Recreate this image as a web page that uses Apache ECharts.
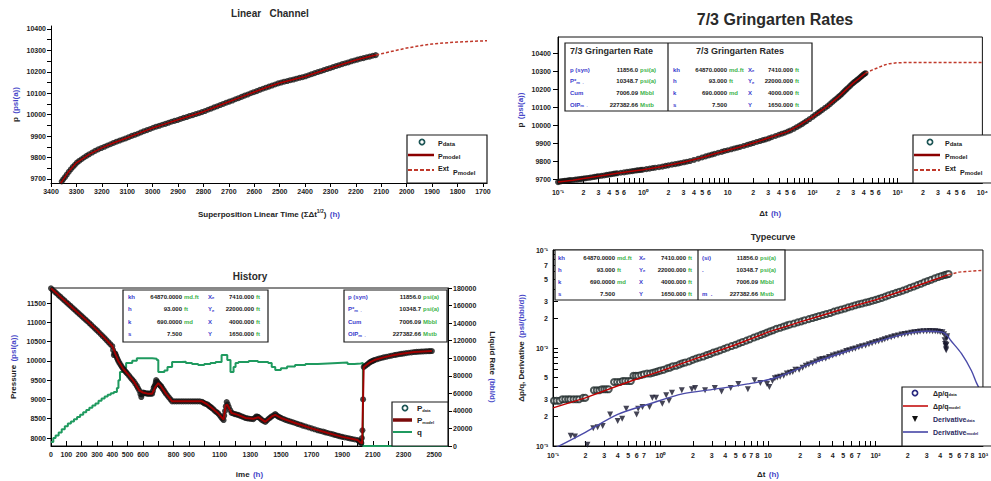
<!DOCTYPE html>
<html><head><meta charset="utf-8">
<script src="https://cdn.jsdelivr.net/npm/echarts@6/dist/echarts.min.js"></script>
<style>html,body{margin:0;padding:0;background:#fff}#c{width:991px;height:481px}</style>
</head><body><div id="c"></div>
<script>
// ---------- Linear Channel ----------
const linModel = [[3362,9680],[3350,9700],[3330,9735],[3300,9775],[3250,9815],[3200,9845],[3150,9870],[3100,9892],[3050,9915],[3000,9938],[2950,9957],[2900,9976],[2850,9995],[2800,10014],[2750,10037],[2700,10060],[2650,10083],[2600,10106],[2550,10128],[2500,10148],[2450,10163],[2400,10178],[2350,10198],[2300,10218],[2250,10237],[2200,10255],[2150,10270],[2120,10279]];
const linExt = [[2120,10279],[2100,10284],[2050,10298],[2000,10311],[1950,10321],[1900,10330],[1850,10335],[1800,10339],[1750,10342],[1684,10345]];
const linData = [[3358,9688],[3352,9698],[3345,9708],[3338,9720],[3330,9733],[3322,9745],[3314,9756],[3306,9766],[3298,9776],[3289,9784],[3280,9792],[3270,9800],[3260,9808],[3250,9815],[3238,9823],[3226,9831],[3214,9838],[3202,9844],[3190,9850],[3178,9856],[3166,9862],[3154,9868],[3142,9874],[3130,9879],[3118,9884],[3106,9889],[3094,9895],[3082,9901],[3070,9906],[3058,9911],[3046,9917],[3034,9923],[3022,9928],[3010,9933],[2998,9939],[2986,9944],[2974,9948],[2962,9953],[2950,9957],[2938,9962],[2926,9967],[2914,9971],[2902,9975],[2890,9980],[2878,9985],[2866,9989],[2854,9994],[2842,9998],[2830,10003],[2818,10007],[2806,10012],[2794,10017],[2782,10023],[2770,10028],[2758,10034],[2746,10039],[2734,10045],[2722,10050],[2710,10056],[2698,10061],[2686,10066],[2674,10072],[2662,10077],[2650,10083],[2638,10089],[2626,10094],[2614,10100],[2602,10105],[2590,10110],[2578,10116],[2566,10121],[2554,10126],[2542,10131],[2530,10136],[2518,10141],[2506,10146],[2494,10150],[2482,10154],[2470,10157],[2458,10161],[2446,10164],[2434,10168],[2422,10172],[2410,10175],[2398,10179],[2386,10184],[2374,10189],[2362,10194],[2350,10199],[2338,10203],[2326,10208],[2314,10213],[2302,10217],[2290,10222],[2278,10227],[2266,10231],[2254,10236],[2242,10240],[2230,10244],[2218,10249],[2206,10253],[2194,10257],[2182,10261],[2170,10264],[2158,10268],[2146,10271],[2134,10275],[2122,10278]];
const linXLabels = [3400,3300,3200,3100,3000,2900,2800,2700,2600,2500,2400,2300,2200,2100,2000,1900,1800,1700];
const linYLabels = [9700,9800,9900,10000,10100,10200,10300,10400];
const linYTicks = [9700,9750,9800,9850,9900,9950,10000,10050,10100,10150,10200,10250,10300,10350,10400];

// ---------- 7/3 Gringarten Rates ----------
const grinModel = [[0.1,9683],[0.15,9693],[0.2,9703],[0.3,9716],[0.5,9732],[0.7,9742],[1,9752],[1.5,9765],[2,9776],[3,9793],[5,9820],[7,9840],[10,9860],[15,9882],[20,9900],[30,9928],[50,9962],[70,10000],[100,10045],[150,10105],[200,10155],[250,10198],[300,10233],[350,10258],[420,10288]];
const grinExt = [[420,10288],[500,10305],[600,10320],[700,10333],[800,10341],[1000,10346],[1500,10348],[3000,10348],[10000,10348]];
const grinData = [[0.1,9683],[0.105,9686],[0.11,9688],[0.115,9689],[0.12,9690],[0.125,9691],[0.13,9692],[0.135,9693],[0.14,9694],[0.15,9695],[0.16,9697],[0.17,9698],[0.18,9700],[0.19,9701],[0.2,9703],[0.21,9704],[0.225,9706],[0.24,9708],[0.255,9710],[0.27,9712],[0.285,9714],[0.3,9716],[0.325,9718],[0.35,9720],[0.375,9723],[0.4,9725],[0.425,9727],[0.45,9729],[0.475,9731],[0.5,9732],[0.55,9735],[0.6,9737],[0.65,9740],[0.7,9742],[0.75,9744],[0.8,9746],[0.85,9748],[0.9,9749],[0.95,9751],[1.0,9752],[1.1,9755],[1.2,9758],[1.3,9761],[1.4,9763],[1.55,9766],[1.7,9769],[1.85,9773],[2,9776],[2.2,9780],[2.4,9783],[2.6,9786],[2.8,9789],[3.05,9793],[3.3,9796],[3.6,9800],[4,9806],[4.5,9813],[5,9820],[5.5,9826],[6,9831],[6.5,9836],[7,9840],[7.7,9846],[8.5,9851],[9.2,9856],[10,9860],[11,9865],[12,9870],[13,9874],[14,9878],[15.5,9884],[17,9890],[18.5,9895],[20,9900],[22,9906],[24,9911],[26,9916],[28,9920],[30.5,9926],[33,9932],[36.5,9939],[40,9946],[43.5,9952],[47,9957],[51,9964],[55,9970],[60,9979],[65,9988],[70,9997],[75,10005],[80,10014],[85,10022],[92,10033],[100,10045],[107,10056],[115,10066],[122,10075],[130,10084],[140,10095],[150,10105],[160,10116],[170,10127],[180,10137],[190,10146],[200,10155],[210,10163],[220,10172],[230,10181],[240,10190],[250,10198],[262,10207],[275,10216],[287,10225],[300,10233],[312,10240],[325,10246],[337,10252],[350,10258],[362,10264],[375,10270],[387,10276],[400,10281],[410,10285],[420,10288]];
const grinXLabels = [0.1,0.2,0.3,0.4,0.5,0.6,1,2,3,4,5,6,10,20,30,40,50,60,100,200,300,400,500,600,1000,2000,3000,4000,5000,6000,10000];
const grinXTicks = [0.1,0.2,0.3,0.4,0.5,0.6,0.7,0.8,0.9,1,2,3,4,5,6,7,8,9,10,20,30,40,50,60,70,80,90,100,200,300,400,500,600,700,800,900,1000,2000,3000,4000,5000,6000,7000,8000,9000,10000];
const grinYLabels = [9700,9800,9900,10000,10100,10200,10300,10400];

// ---------- History ----------
const histPModel = [[0,11880],[50,11700],[100,11520],[150,11340],[200,11160],[250,10980],[300,10790],[350,10590],[400,10380],[420,10180],[440,9990],[470,9800],[500,9660],[540,9470],[576,9230],[600,9180],[630,9150],[660,9150],[680,9320],[700,9420],[720,9330],[750,9150],[790,8950],[985,8950],[1020,8870],[1050,8777],[1090,8640],[1126,8480],[1140,8850],[1150,8860],[1178,8650],[1220,8600],[1270,8520],[1320,8500],[1353,8540],[1398,8420],[1440,8560],[1463,8600],[1500,8520],[1592,8389],[1700,8250],[1806,8130],[1900,8030],[2000,7948],[2020,7880],[2030,7860],[2040,9839],[2080,9960],[2110,10021],[2170,10090],[2240,10150],[2300,10190],[2369,10228],[2430,10245],[2485,10255]];
const histPData = [[0,11880],[12,11837],[25,11790],[37,11747],[50,11700],[62,11657],[75,11610],[87,11567],[100,11520],[112,11477],[125,11430],[137,11387],[150,11340],[162,11297],[175,11250],[187,11207],[200,11160],[212,11117],[225,11070],[237,11027],[250,10980],[262,10935],[275,10885],[287,10838],[300,10790],[312,10742],[325,10690],[337,10640],[350,10590],[362,10538],[375,10485],[387,10433],[400,10380],[405,10280],[410,10150],[415,10200],[420,10180],[425,10130],[430,10080],[435,10035],[440,9990],[447,9940],[455,9890],[462,9845],[470,9800],[477,9765],[485,9730],[492,9695],[500,9660],[510,9610],[520,9560],[530,9515],[540,9470],[550,9410],[560,9350],[568,9290],[576,9230],[583,9140],[589,9062],[595,9130],[600,9180],[607,9170],[615,9160],[622,9155],[630,9150],[637,9150],[645,9150],[652,9150],[660,9150],[665,9220],[670,9300],[675,9340],[680,9380],[683,9440],[686,9503],[693,9460],[700,9420],[705,9395],[710,9370],[715,9350],[720,9330],[727,9285],[735,9240],[742,9195],[750,9150],[760,9100],[770,9050],[780,9000],[790,8950],[805,8950],[820,8950],[835,8950],[850,8950],[865,8950],[880,8950],[895,8950],[910,8950],[925,8950],[940,8950],[955,8950],[970,8950],[985,8940],[992,8920],[1000,8900],[1010,8885],[1020,8870],[1027,8845],[1035,8820],[1042,8800],[1050,8777],[1060,8740],[1070,8700],[1080,8670],[1090,8640],[1100,8590],[1110,8540],[1118,8500],[1126,8466],[1130,8580],[1135,8700],[1140,8820],[1146,8933],[1153,8870],[1160,8800],[1170,8720],[1178,8650],[1189,8635],[1200,8620],[1210,8610],[1220,8600],[1232,8580],[1245,8560],[1257,8540],[1270,8518],[1282,8509],[1295,8500],[1307,8495],[1320,8490],[1330,8525],[1340,8560],[1347,8552],[1353,8544],[1364,8507],[1375,8470],[1386,8442],[1398,8415],[1409,8458],[1420,8500],[1430,8530],[1440,8560],[1452,8590],[1463,8622],[1471,8590],[1480,8560],[1490,8540],[1500,8520],[1515,8495],[1530,8470],[1545,8450],[1560,8430],[1576,8410],[1592,8389],[1608,8367],[1625,8345],[1642,8322],[1660,8300],[1680,8275],[1700,8250],[1720,8225],[1740,8200],[1757,8182],[1775,8165],[1790,8147],[1806,8130],[1823,8112],[1840,8095],[1855,8077],[1870,8060],[1885,8045],[1900,8030],[1917,8015],[1935,8000],[1950,7987],[1965,7975],[1982,7961],[2000,7948],[2008,7925],[2015,7900],[2020,7885],[2025,7870],[2028,8000],[2032,8200],[2036,9000],[2040,9839],[2050,9870],[2060,9900],[2070,9930],[2080,9960],[2088,9978],[2095,9995],[2103,10008],[2110,10021],[2125,10040],[2140,10060],[2155,10075],[2170,10090],[2187,10105],[2205,10120],[2222,10135],[2240,10150],[2255,10161],[2270,10172],[2285,10181],[2300,10190],[2317,10200],[2335,10210],[2352,10219],[2369,10228],[2385,10233],[2400,10238],[2415,10242],[2430,10245],[2445,10248],[2460,10250],[2472,10252],[2485,10255]];
const histQ = [[0,4500],[15,9000],[30,12000],[50,15500],[70,19000],[90,22500],[110,25500],[130,28000],[150,30500],[170,33000],[190,35500],[210,38500],[230,41000],[250,43500],[270,46000],[290,48500],[310,51500],[330,54000],[350,56500],[370,58500],[390,60000],[410,61500],[430,66000],[440,75000],[450,84300],[470,89000],[490,94500],[530,97000],[560,100000],[630,100000],[660,99500],[690,98000],[700,84300],[740,86000],[760,90000],[790,95700],[850,96000],[880,94500],[920,93500],[960,92300],[1000,93500],[1040,94500],[1074,95700],[1113,103600],[1150,98000],[1171,84300],[1191,90000],[1204,94500],[1223,95700],[1290,96800],[1350,95700],[1417,94500],[1440,90000],[1463,86600],[1500,88500],[1540,90500],[1592,92300],[1660,93500],[1740,94000],[1806,94500],[1870,95000],[1935,93400],[1980,94000],[2020,94500],[2035,0],[2590,0]];
const histXLabels = [0,100,200,300,400,500,600,800,900,1100,1300,1500,1700,1900,2100,2300,2500];
const histXTicks = [0,100,200,300,400,500,600,700,800,900,1000,1100,1200,1300,1400,1500,1600,1700,1800,1900,2000,2100,2200,2300,2400,2500];
const histPLabels = [8000,8500,9000,9500,10000,10500,11000,11500];

// ---------- Typecurve ----------
const tcDpqModel = [[0.1,0.00245],[0.2,0.0031],[0.5,0.0045],[1,0.0058],[2,0.0076],[5,0.0108],[10,0.0145],[20,0.0185],[50,0.025],[100,0.031],[200,0.040],[480,0.056]];
const tcDpqExt = [[480,0.056],[600,0.0595],[800,0.061],[1000,0.062]];
const tcDpqData = [[0.102,0.0029],[0.108,0.0029],[0.115,0.0029],[0.122,0.003],[0.13,0.003],[0.138,0.003],[0.145,0.003],[0.155,0.003],[0.165,0.003],[0.175,0.003],[0.19,0.0031],[0.2,0.0031],[0.24,0.0037],[0.255,0.0037],[0.27,0.0037],[0.285,0.0038],[0.3,0.0038],[0.315,0.0038],[0.33,0.0038],[0.37,0.0045],[0.395,0.0045],[0.42,0.0045],[0.445,0.0046],[0.47,0.0046],[0.5,0.0046],[0.53,0.0046],[0.56,0.0052],[0.59,0.0052],[0.62,0.0052],[0.66,0.0053],[0.7,0.0054],[0.75,0.0055],[0.8,0.0055],[0.85,0.0056],[0.9,0.0057],[0.95,0.0058],[1,0.0059],[1.07,0.006],[1.15,0.0062],[1.22,0.0063],[1.3,0.0065],[1.4,0.0066],[1.5,0.0068],[1.6,0.007],[1.7,0.0071],[1.85,0.0073],[2,0.0076],[2.15,0.0078],[2.3,0.008],[2.5,0.0082],[2.7,0.0085],[2.9,0.0087],[3.1,0.009],[3.35,0.0092],[3.6,0.0095],[3.9,0.0098],[4.2,0.0101],[4.6,0.0105],[5,0.0108],[5.4,0.0112],[5.8,0.0115],[6.3,0.0119],[6.8,0.0123],[7.4,0.0128],[8,0.0132],[8.6,0.0136],[9.2,0.014],[9.8,0.0144],[10.5,0.0148],[11.2,0.0152],[12,0.0157],[13,0.0161],[14,0.0166],[15,0.017],[16,0.0174],[17.5,0.0178],[19,0.0183],[20.5,0.0187],[22,0.0192],[24,0.0197],[26,0.0202],[28,0.0207],[30,0.0212],[32.5,0.0217],[35,0.0222],[38,0.0228],[41,0.0235],[44.5,0.0241],[48,0.0247],[52,0.0253],[56,0.026],[60.5,0.0266],[65,0.0273],[70,0.0279],[75,0.0285],[81,0.0291],[87,0.0297],[93,0.0303],[100,0.031],[107,0.0317],[115,0.0325],[124,0.0335],[133,0.0345],[144,0.0355],[155,0.0365],[167,0.0375],[180,0.0385],[195,0.0398],[210,0.0412],[227,0.0425],[245,0.0438],[265,0.0453],[285,0.0468],[307,0.0483],[330,0.0498],[357,0.0514],[385,0.053],[412,0.0543],[440,0.0555],[460,0.0563],[480,0.057]];
const tcDerModel = [[0.1,0.00093],[0.2,0.00138],[0.4,0.0021],[0.8,0.0027],[1.6,0.0034],[3.2,0.0038],[6.5,0.0043],[12,0.005],[24,0.0068],[50,0.009],[100,0.0115],[200,0.0141],[300,0.0148],[420,0.0145],[470,0.0132],[500,0.012],[630,0.0088],[780,0.0059],[880,0.0043],[1000,0.0033]];
const tcDerData = [[0.146,0.00127],[0.16,0.00125],[0.209,0.00103],[0.237,0.00152],[0.26,0.00155],[0.29,0.0016],[0.34,0.0021],[0.4,0.0018],[0.44,0.0019],[0.48,0.0024],[0.6,0.0021],[0.62,0.0024],[0.68,0.0025],[0.79,0.0025],[0.84,0.0031],[0.91,0.0031],[1.04,0.0027],[1.13,0.0033],[1.2,0.0029],[1.28,0.0035],[1.58,0.0037],[1.96,0.0038],[2.1,0.0039],[2.6,0.0037],[3.2,0.0039],[3.7,0.0036],[4.5,0.0039],[5.3,0.0043],[6.5,0.0038],[7.5,0.0047],[8.5,0.0044],[9.8,0.0043],[10.3,0.004],[11,0.0046],[11.6,0.0049],[12.2,0.005],[13,0.0051],[14,0.0052],[15,0.0055],[16,0.0056],[17,0.0057],[18,0.006],[19.5,0.006],[21,0.0063],[22.5,0.0066],[24,0.0068],[26,0.007],[28,0.0073],[30,0.0076],[32,0.0077],[34.5,0.0078],[37,0.0081],[40,0.0084],[43,0.0086],[46.5,0.0088],[50,0.009],[53.5,0.0093],[57,0.0095],[61,0.0097],[65,0.0099],[70,0.0102],[75,0.0104],[81,0.0106],[87,0.0109],[93,0.0112],[100,0.0115],[107,0.0117],[115,0.012],[122,0.0123],[130,0.0126],[140,0.0129],[150,0.0132],[162,0.0134],[175,0.0137],[187,0.0139],[200,0.0141],[215,0.0143],[230,0.0145],[245,0.0146],[260,0.0147],[280,0.0148],[300,0.0148],[320,0.0149],[340,0.0148],[360,0.0148],[380,0.0147],[400,0.0146],[420,0.0145],[435,0.0138],[440,0.012],[445,0.011],[450,0.0105],[453,0.0098],[455,0.0095],[458,0.0108],[460,0.0125],[465,0.0132]];
const tcXLabels = [0.1,0.2,0.3,0.4,0.5,0.6,0.7,1,2,3,4,5,6,7,8,10,20,30,40,50,60,70,100,200,300,400,500,600,700,800,1000];
const tcXTicks = [0.1,0.2,0.3,0.4,0.5,0.6,0.7,0.8,0.9,1,2,3,4,5,6,7,8,9,10,20,30,40,50,60,70,80,90,100,200,300,400,500,600,700,800,900,1000];
const tcYLabels = [0.001,0.002,0.003,0.005,0.01,0.02,0.03,0.05,0.07,0.1];
const tcYTicks = [0.001,0.002,0.003,0.004,0.005,0.006,0.007,0.008,0.009,0.01,0.02,0.03,0.04,0.05,0.06,0.07,0.08,0.09,0.1];

// ---------- Tables ----------
const paramRows = [['kh','64870.0000','md.ft','X_e','7410.000','ft'],['h','93.000','ft','Y_e','22000.000','ft'],['k','690.0000','md','X','4000.000','ft'],['s','7.500','','Y','1650.000','ft']];
const resultRows = [['p (syn)','11856.0','psi(a)'],['P*_m  .','10348.7','psi(a)'],['Cum','7006.09','Mbbl'],['OIP_m  .','227382.66','Mstb']];
const tcResultLabels = ['(si)','.','','m  .'];

// ================= rendering =================
const F = "'Liberation Sans', Arial, sans-serif";
const LBL = {fontSize:7, fontWeight:'bold', color:'#222', fontFamily:F};
const SUP = {'-':'⁻','0':'⁰','1':'¹','2':'²','3':'³','4':'⁴'};
function logFmt(v){const e=Math.floor(Math.log10(v)+1e-9);const m=Math.round(v/Math.pow(10,e));if(m===1){return e===1?'10':'10'+String(e).split('').map(c=>SUP[c]).join('');}return String(m);}
const plain = v => String(Math.round(v));
const nameRich = {a:{fontSize:8,fontWeight:'bold',color:'#222',fontFamily:F},b:{fontSize:8,fontWeight:'bold',color:'#4646c8',fontFamily:F},s:{fontSize:5,fontWeight:'bold',color:'#222',fontFamily:F,verticalAlign:'top'}};
function axLine(){return {show:true,onZero:false,lineStyle:{color:'#000',width:1}};}

const G = [];
function box(x,y,w,h){G.push({type:'rect',shape:{x:x,y:y,width:w,height:h},style:{fill:'#fff',stroke:'#1a1a1a',lineWidth:1.2},z:100});}
function vline(x,y1,y2){G.push({type:'line',shape:{x1:x,y1:y1,x2:x,y2:y2},style:{stroke:'#1a1a1a',lineWidth:1.2},z:101});}
function hl(x1,x2,y,color,w,dash){G.push({type:'line',shape:{x1:x1,y1:y,x2:x2,y2:y},style:{stroke:color,lineWidth:w,lineDash:dash||null},z:103});}
function txt(x,y,str,color,align,size,subSize){
  if(!str) return;
  size=size||6;
  let text=str, rich=null;
  const i=str.indexOf('_');
  if(i>=0){
    text='{m|'+str.slice(0,i)+'}{s|'+str.slice(i+1)+'}';
    rich={m:{fontSize:size,fontWeight:'bold',fontFamily:F,fill:color,color:color},s:{fontSize:subSize||size*0.7,fontWeight:'bold',fontFamily:F,fill:color,color:color,verticalAlign:'bottom'}};
  }
  const st={text:text,fill:color,fontSize:size,fontWeight:'bold',fontFamily:F,align:align||'left',verticalAlign:'middle'};
  if(rich) st.rich=rich;
  G.push({type:'text',x:x,y:y,style:st,z:104});
}
const BLUE='#3a3acc', GREEN='#3cb34a', BLK='#1a1a1a';
function params(rowsY, c){
  paramRows.forEach((r,k)=>{const y=rowsY[k];
    txt(c[0],y,r[0],BLUE);txt(c[1],y,r[1],BLK,'right');txt(c[2],y,r[2],GREEN);
    txt(c[3],y,r[3],BLUE);txt(c[4],y,r[4],BLK,'right');txt(c[5],y,r[5],GREEN);});
}
function results(rowsY, c, labels){
  resultRows.forEach((r,k)=>{const y=rowsY[k];
    txt(c[0],y,labels?labels[k]:r[0],BLUE);txt(c[1],y,r[1],BLK,'right');txt(c[2],y,r[2],GREEN);});
}
// Gringarten table
box(565,43,247,68); vline(668,43,111);
txt(570,51,'7/3 Gringarten Rate','#2a2a2a','left',9);
txt(740,51,'7/3 Gringarten Rates','#2a2a2a','center',9);
const gy=[69.5,81,92.5,104.5];
results(gy,[570,638,640]);
params(gy,[673,727,729,748,793,795]);
// History tables
box(123,290,145,52);
const hy=[296.5,309,321.5,334];
params(hy,[128,182,184,208,254,256]);
box(344,290,103,52);
results(hy,[348,421,423]);
// Typecurve table
box(555,250,230,50); vline(698,250,300);
const ty=[257.5,269.5,281.5,293.5];
params(ty,[558,615,617,639,686,688]);
results(ty,[702,758,760],tcResultLabels);

// Legends
function circ(cx,cy,color){G.push({type:'circle',shape:{cx:cx,cy:cy,r:2.6},style:{fill:'none',stroke:color,lineWidth:1.7},z:103});}
box(407,135,80,48);
circ(422,142,'#1d5555'); txt(438,143,'P_data','#222','left',7,6);
hl(408,434,155,'#8b0000',2.5); txt(438,156,'P_model','#222','left',7,6);
hl(408,434,170,'#c0392b',2,[4,2]); txt(438,168,'Ext','#222','left',7); txt(453,172,'P_model','#222','left',7,6);
box(913,135,90,48);
circ(930,142,'#1d5555'); txt(945,143,'P_data','#222','left',7,6);
hl(914,940,155,'#8b0000',2.5); txt(945,156,'P_model','#222','left',7,6);
hl(914,940,170,'#c0392b',2,[4,2]); txt(945,168,'Ext','#222','left',7); txt(960,172,'P_model','#222','left',7,6);
box(392,402,56,44);
circ(405,408,'#1d5555'); txt(417,408,'P_data','#222','left',8,4);
hl(393,412,420,'#7a0a0a',3.5); txt(417,420,'P_model','#222','left',8,4);
hl(393,412,432,'#1f9a5f',2); txt(417,432,'q','#222','left',8);
box(902,387,95,59);
circ(915,393,'#2a2a80'); txt(933,393,'Δp/q_data','#222','left',7,4);
hl(903,928,406,'#c00000',1.5); txt(933,406,'Δp/q_model','#222','left',7,4);
G.push({type:'polygon',shape:{points:[[912,416],[918,416],[915,422]]},style:{fill:'#111'},z:103});
txt(933,419,'Derivative_data','#2a2a60','left',7,4);
hl(903,928,432,'#3a3aa0',1.5); txt(933,432,'Derivative_model','#2a2a60','left',7,4);

const chart = echarts.init(document.getElementById('c'), null, {renderer:'svg'});
const TT = {fontWeight:'bold',color:'#2a2a2a',fontFamily:F};
chart.setOption({
  animation:false,
  backgroundColor:'#fff',
  title:[
    {text:'Linear   Channel',left:270,top:8,textAlign:'center',padding:0,textStyle:Object.assign({fontSize:10},TT)},
    {text:'7/3 Gringarten Rates',left:775,top:11,textAlign:'center',padding:0,textStyle:Object.assign({fontSize:16},TT)},
    {text:'History',left:250,top:271,textAlign:'center',padding:0,textStyle:Object.assign({fontSize:10},TT)},
    {text:'Typecurve',left:773,top:232,textAlign:'center',padding:0,textStyle:Object.assign({fontSize:9},TT)}
  ],
  grid:[
    {left:51,top:26,right:504,bottom:298},
    {left:558,top:37,right:0,bottom:298,show:true,borderColor:'#111',borderWidth:1},
    {left:51,top:288,right:543,bottom:35,show:true,borderColor:'#111',borderWidth:1},
    {left:553,top:250,right:0,bottom:35,show:true,borderColor:'#111',borderWidth:1}
  ],
  xAxis:[
    {type:'value',gridIndex:0,inverse:true,min:1684,max:3400,splitLine:{show:false},axisLine:axLine(),
     axisTick:{show:true,length:4,customValues:linXLabels,lineStyle:{color:'#000'}},
     axisLabel:Object.assign({customValues:linXLabels,formatter:plain,margin:5},LBL),
     name:'{a|Superposition Linear Time (ΣΔt}{s|1/2}{a|)} {b|(h)}',nameLocation:'middle',nameGap:25,nameTextStyle:{rich:nameRich}},
    {type:'log',logBase:10,gridIndex:1,min:0.1,max:10000,splitLine:{show:false},axisLine:axLine(),
     axisTick:{show:true,inside:true,length:5,customValues:grinXTicks,lineStyle:{color:'#000'}},
     axisLabel:Object.assign({customValues:grinXLabels,formatter:logFmt,margin:6},LBL),
     name:'{a|Δt} {b|(h)}',nameLocation:'middle',nameGap:24,nameTextStyle:{rich:nameRich}},
    {type:'value',gridIndex:2,min:0,max:2590,splitLine:{show:false},axisLine:axLine(),
     axisTick:{show:true,inside:true,length:5,customValues:histXTicks,lineStyle:{color:'#000'}},
     axisLabel:Object.assign({customValues:histXLabels,formatter:plain,margin:5},LBL),
     name:'{a|ime} {b|(h)}',nameLocation:'middle',nameGap:22,nameTextStyle:{rich:nameRich}},
    {type:'log',logBase:10,gridIndex:3,min:0.1,max:1000,splitLine:{show:false},axisLine:axLine(),
     axisTick:{show:true,inside:true,length:5,customValues:tcXTicks,lineStyle:{color:'#000'}},
     axisLabel:Object.assign({customValues:tcXLabels,formatter:logFmt,margin:6},LBL),
     name:'{a|Δt} {b|(h)}',nameLocation:'middle',nameGap:22,nameTextStyle:{rich:nameRich}}
  ],
  yAxis:[
    {type:'value',gridIndex:0,min:9681,max:10414,splitLine:{show:false},axisLine:axLine(),
     axisTick:{show:true,length:4,customValues:linYTicks,lineStyle:{color:'#000'}},
     axisLabel:Object.assign({customValues:linYLabels,formatter:plain,margin:5},LBL),
     name:'{a|p} {b|(psi(a))}',nameLocation:'middle',nameGap:30,nameTextStyle:{rich:nameRich}},
    {type:'value',gridIndex:1,min:9678,max:10489,splitLine:{show:false},axisLine:axLine(),
     axisTick:{show:true,length:5,customValues:grinYLabels,lineStyle:{color:'#000'}},
     axisLabel:Object.assign({customValues:grinYLabels,formatter:plain,margin:7},LBL),
     name:'{a|p} {b|(psi(a))}',nameLocation:'middle',nameGap:32,nameTextStyle:{rich:nameRich}},
    {type:'value',gridIndex:2,min:7793,max:11889,splitLine:{show:false},axisLine:axLine(),
     axisTick:{show:true,length:4,customValues:histPLabels,lineStyle:{color:'#000'}},
     axisLabel:Object.assign({customValues:histPLabels,formatter:plain,margin:5},LBL),
     name:'{a|Pressure} {b|(psi(a))}',nameLocation:'middle',nameGap:32,nameTextStyle:{rich:nameRich}},
    {type:'value',gridIndex:2,position:'right',min:0,max:180000,interval:20000,splitLine:{show:false},axisLine:axLine(),
     axisTick:{show:true,length:4,lineStyle:{color:'#000'}},
     axisLabel:Object.assign({formatter:plain,margin:5},LBL),
     name:'{a|Liquid Rate} {b|(bbl/d)}',nameLocation:'middle',nameRotate:-90,nameGap:38,nameTextStyle:{rich:nameRich}},
    {type:'log',logBase:10,gridIndex:3,min:0.001,max:0.1,splitLine:{show:false},axisLine:axLine(),
     axisTick:{show:true,inside:true,length:5,customValues:tcYTicks,lineStyle:{color:'#000'}},
     axisLabel:Object.assign({customValues:tcYLabels,formatter:logFmt,margin:5},LBL),
     name:'{a|Δp/q, Derivative} {b|(psi/(bbl/d))}',nameLocation:'middle',nameGap:26,nameTextStyle:{rich:nameRich}}
  ],
  series:[
    {name:'Pdata',type:'scatter',xAxisIndex:0,yAxisIndex:0,data:linData,symbol:'circle',symbolSize:6,itemStyle:{color:'#161616'},z:2},
    {name:'Pmodel',type:'line',xAxisIndex:0,yAxisIndex:0,data:linModel,showSymbol:false,lineStyle:{color:'#b00000',width:1.5},z:3},
    {name:'Ext Pmodel',type:'line',xAxisIndex:0,yAxisIndex:0,data:linExt,showSymbol:false,lineStyle:{color:'#c0392b',width:1.5,type:[3,2]},z:3},

    {name:'Pdata ',type:'scatter',xAxisIndex:1,yAxisIndex:1,data:grinData,symbol:'circle',symbolSize:6,itemStyle:{color:'#161616'},z:2},
    {name:'Pmodel ',type:'line',xAxisIndex:1,yAxisIndex:1,data:grinModel,showSymbol:false,lineStyle:{color:'#b00000',width:1.5},z:3},
    {name:'Ext Pmodel ',type:'line',xAxisIndex:1,yAxisIndex:1,data:grinExt,showSymbol:false,lineStyle:{color:'#c0392b',width:1.5,type:[3,2]},z:3},

    {name:'q',type:'line',xAxisIndex:2,yAxisIndex:3,data:histQ,step:'end',showSymbol:false,lineStyle:{color:'#1f9a5f',width:2},z:2},
    {name:'P data',type:'scatter',xAxisIndex:2,yAxisIndex:2,data:histPData,symbol:'circle',symbolSize:6,itemStyle:{color:'#141414'},z:3},
    {name:'P model',type:'line',xAxisIndex:2,yAxisIndex:2,data:histPModel,showSymbol:false,lineStyle:{color:'#a00000',width:2},z:4},

    {name:'Δp/q data',type:'scatter',xAxisIndex:3,yAxisIndex:4,data:tcDpqData,symbol:'emptyCircle',symbolSize:6,itemStyle:{color:'#1f2a2a',borderWidth:1.5},z:2},
    {name:'Δp/q model',type:'line',xAxisIndex:3,yAxisIndex:4,data:tcDpqModel,showSymbol:false,lineStyle:{color:'#c00000',width:1.4},z:3},
    {name:'Δp/q model ext',type:'line',xAxisIndex:3,yAxisIndex:4,data:tcDpqExt,showSymbol:false,lineStyle:{color:'#c0392b',width:1.4,type:[3,2]},z:3},
    {name:'Derivative data',type:'scatter',xAxisIndex:3,yAxisIndex:4,data:tcDerData,symbol:'triangle',symbolRotate:180,symbolSize:6,itemStyle:{color:'#15152a'},z:2},
    {name:'Derivative model',type:'line',xAxisIndex:3,yAxisIndex:4,data:tcDerModel,showSymbol:false,smooth:0.3,lineStyle:{color:'#4a4aa8',width:1.4},z:3}
  ],
  graphic:G
});
</script></body></html>
